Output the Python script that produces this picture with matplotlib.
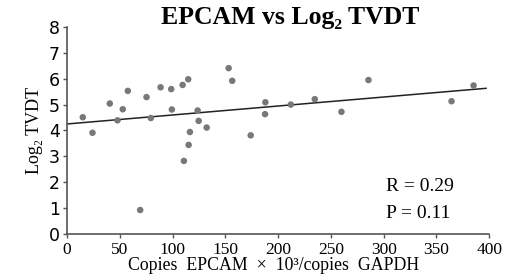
import matplotlib.pyplot as plt

# copies EPCAM x 10^3 / copies GAPDH vs log2 TVDT
epcam = [14.9, 24.1, 40.5, 47.8, 52.8, 57.6, 69.3, 75.3, 79.4, 88.6,
         98.7, 99.3, 109.5, 110.7, 114.8, 115.2, 116.4, 123.7, 124.7, 132.3,
         153.1, 156.5, 174.0, 187.6, 187.9, 212.0, 234.7, 260.0, 285.6,
         364.3, 385.2]
tvdt = [4.51, 3.91, 5.04, 4.39, 4.82, 5.53, 0.92, 5.29, 4.48, 5.67,
        5.60, 4.81, 5.76, 2.82, 5.98, 3.44, 3.94, 4.77, 4.37, 4.11,
        6.41, 5.92, 3.81, 4.63, 5.09, 5.00, 5.21, 4.72, 5.95,
        5.13, 5.74]
fit_x = [0, 397]
fit_y = [4.25, 5.63]
xticks = [0, 50, 100, 150, 200, 250, 300, 350, 400]
yticks = [0, 1, 2, 3, 4, 5, 6, 7, 8]

serif = 'Liberation Serif'

fig = plt.figure(figsize=(5.08, 2.79), dpi=100)
ax = fig.add_axes([0.132, 0.162, 0.831, 0.741])

ax.scatter(epcam, tvdt, s=22, color='#787878', edgecolors='none', zorder=3)
ax.plot(fit_x, fit_y, color='#222222', lw=1.1)

ax.set_xlim(0, 400)
ax.set_ylim(0, 8)
ax.set_xticks(xticks)
ax.set_yticks(yticks)
for s in ['top', 'right']:
    ax.spines[s].set_visible(False)
for s in ['left', 'bottom']:
    ax.spines[s].set_color('#555555')
    ax.spines[s].set_linewidth(1.2)
ax.tick_params(axis='both', length=3, width=1, color='#555555', direction='out')
ax.tick_params(axis='x', labelsize=12.5, pad=3)
ax.tick_params(axis='y', labelsize=12.5, pad=2)
for lab in ax.get_xticklabels():
    lab.set_fontfamily(serif)
for lab in ax.get_yticklabels():
    lab.set_fontfamily('DejaVu Sans')

ax.set_xlabel('Copies  EPCAM  \u00d7  10\u00b3/copies  GAPDH', fontsize=12.8,
              fontfamily=serif, labelpad=-1)
ax.xaxis.label.set_x(0.488)
ax.set_ylabel('Log\u2082 TVDT', fontsize=13, fontfamily=serif, labelpad=4)
fig.text(0.571, 0.915, 'EPCAM vs Log\u2082 TVDT', ha='center', fontsize=18.5,
         fontweight='bold', fontfamily=serif)

ax.text(0.755, 0.205, 'R = 0.29', transform=ax.transAxes, fontsize=14, fontfamily=serif)
ax.text(0.755, 0.075, 'P = 0.11', transform=ax.transAxes, fontsize=14, fontfamily=serif)

fig.savefig('out.png', dpi=100)
